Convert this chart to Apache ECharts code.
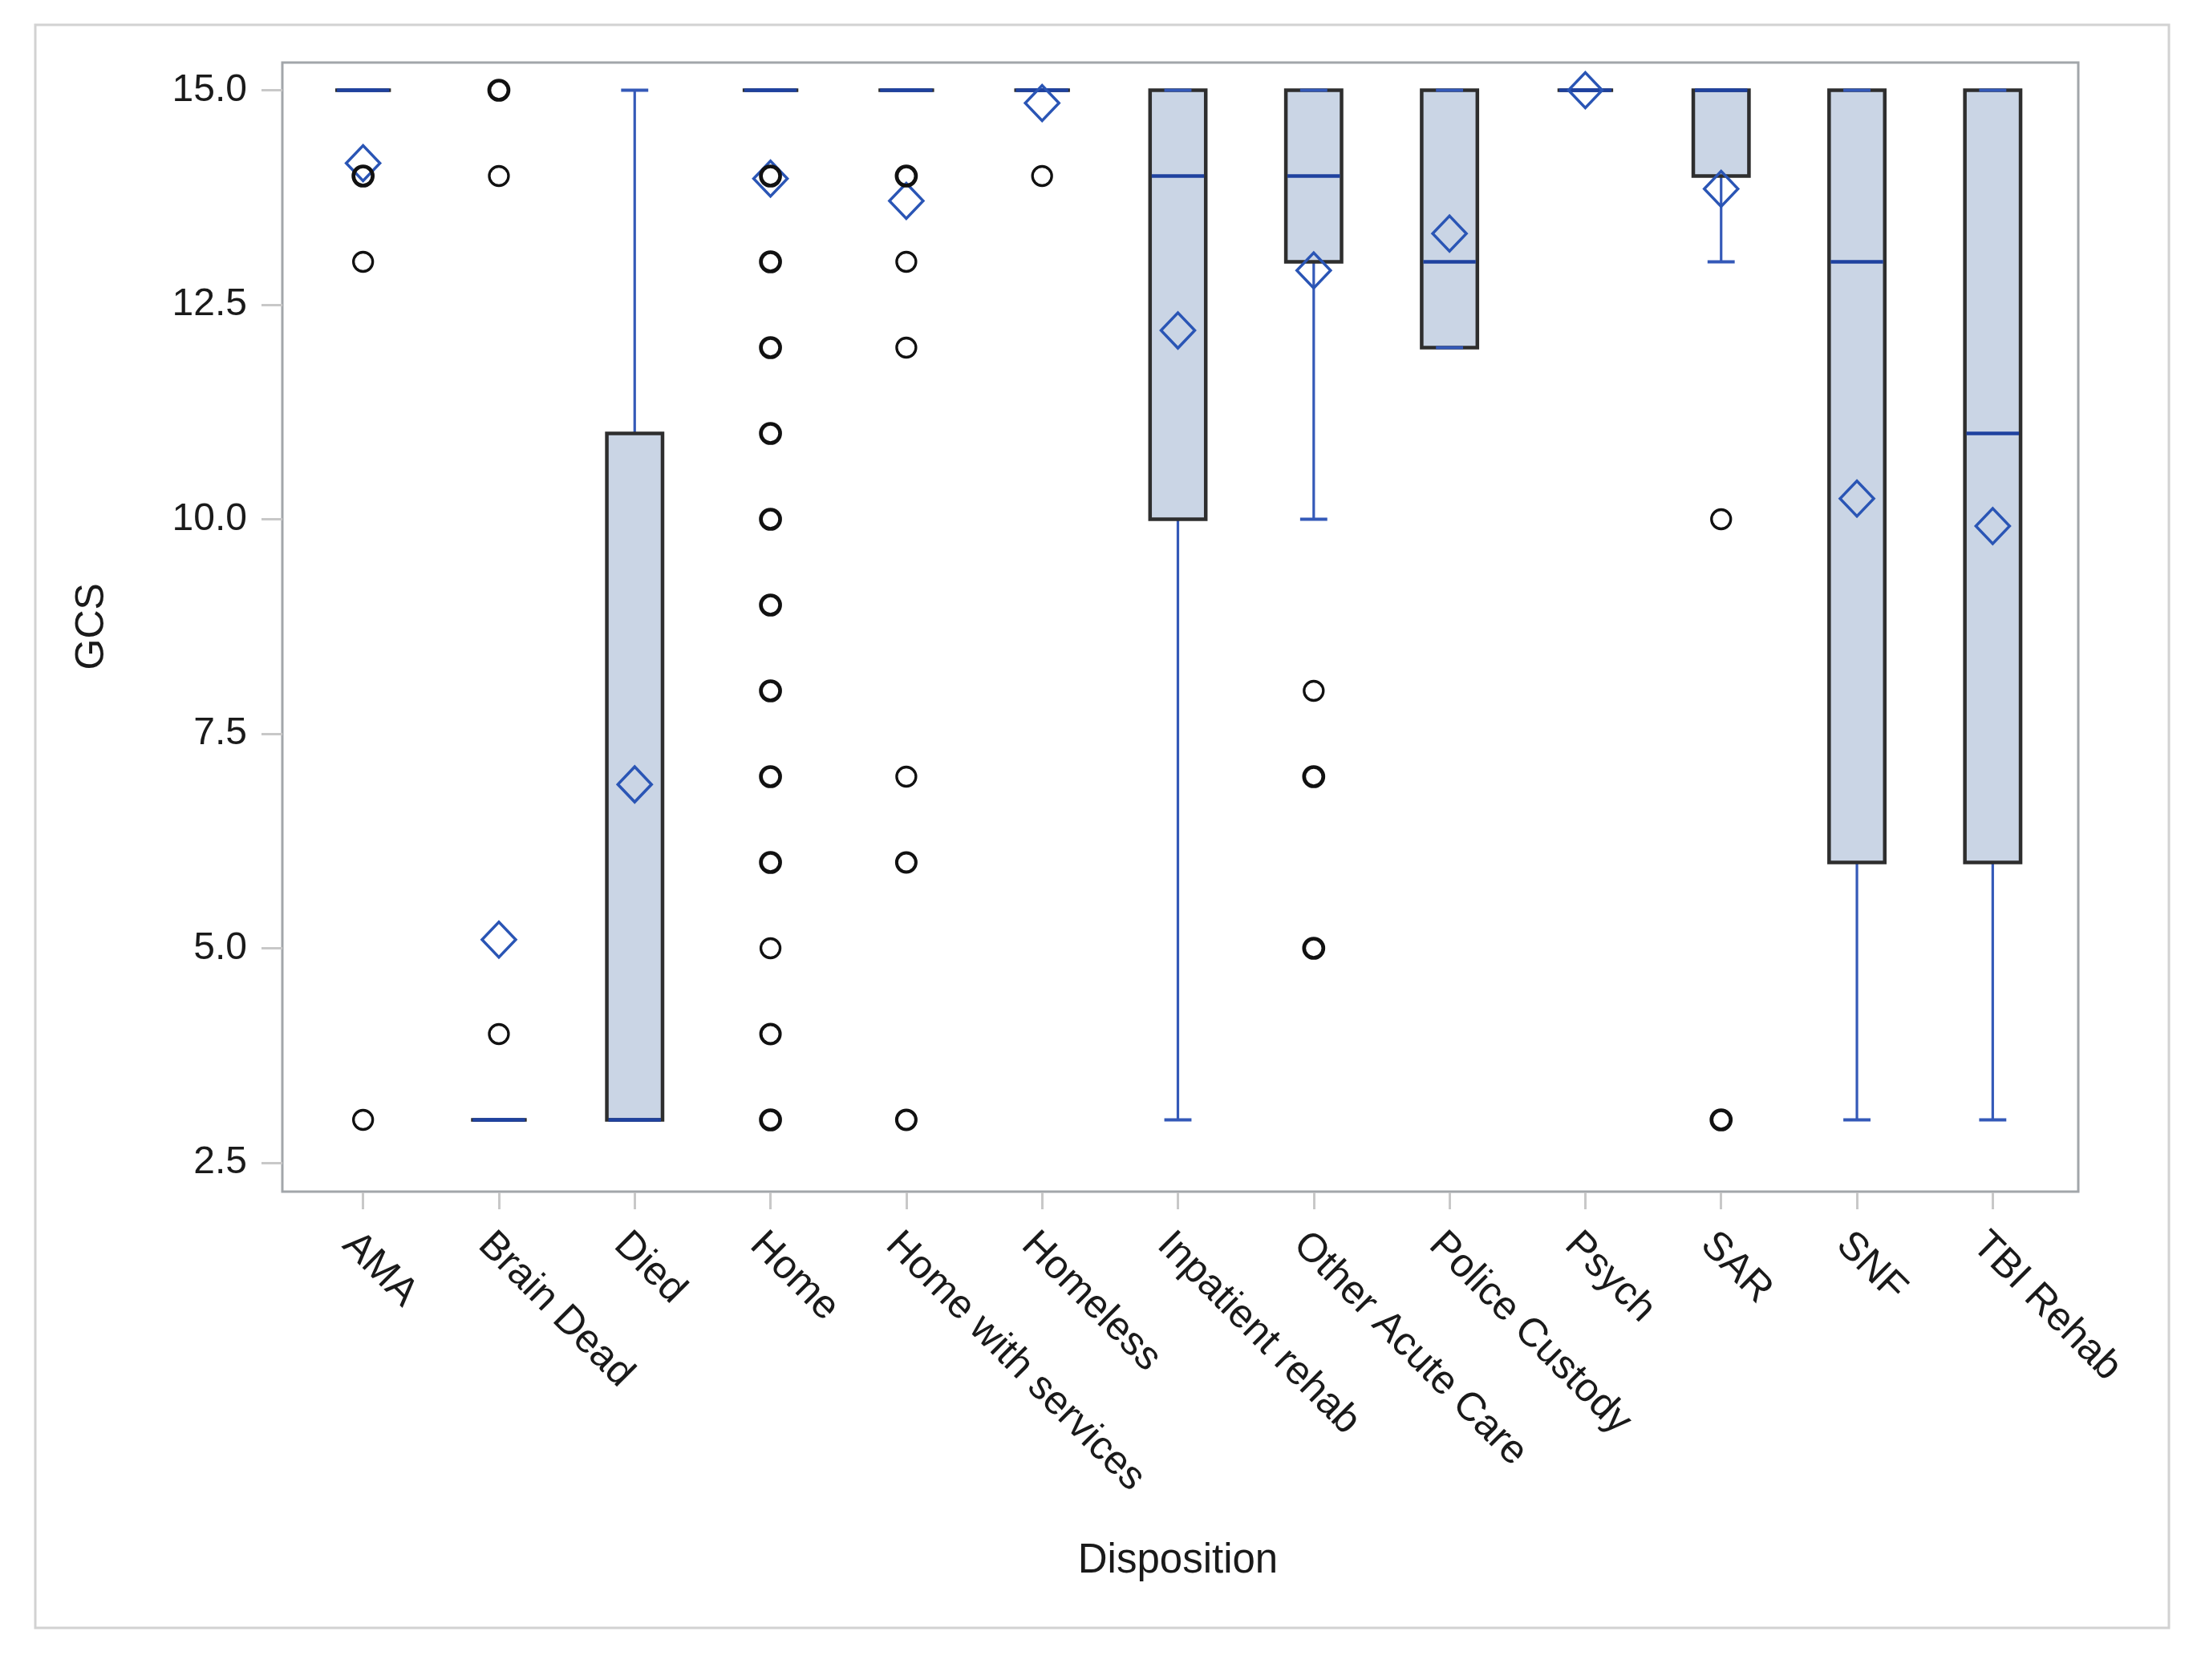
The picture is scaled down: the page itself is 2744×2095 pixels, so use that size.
<!DOCTYPE html>
<html>
<head>
<meta charset="utf-8">
<script src="https://cdn.jsdelivr.net/npm/echarts@6/dist/echarts.min.js"></script>
<style>html,body{margin:0;padding:0;background:#fff;}#c{width:2744px;height:2095px;}</style>
</head>
<body>
<div id="c"></div>
<script>
const categories = ['AMA','Brain Dead','Died','Home','Home with services','Homeless','Inpatient rehab','Other Acute Care','Police Custody','Psych','SAR','SNF','TBI Rehab'];
const boxMin    = [15, 3,  3, 15, 15, 15,  3, 10, 12, 15, 13,  3,  3];
const boxQ1     = [15, 3,  3, 15, 15, 15, 10, 13, 12, 15, 14,  6,  6];
const boxMedian = [15, 3,  3, 15, 15, 15, 14, 14, 13, 15, 15, 13, 11];
const boxQ3     = [15, 3, 11, 15, 15, 15, 15, 15, 15, 15, 15, 15, 15];
const boxMax    = [15, 3, 15, 15, 15, 15, 15, 15, 15, 15, 15, 15, 15];
const means     = [14.15, 5.1, 6.91, 13.97, 13.71, 14.85, 12.2, 12.9, 13.33, 15, 13.85, 10.24, 9.92];
// outliers: category index, value, approximate number of overlapping observations
const outlierCat   = [0,0,0, 1,1,1, 3,3,3,3,3,3,3,3,3,3,3,3, 4,4,4,4,4,4, 5, 7,7,7, 10,10];
const outlierValue = [14,13,3, 15,14,4, 14,13,12,11,10,9,8,7,6,5,4,3, 14,13,12,7,6,3, 14, 8,7,5, 10,3];
const outlierCount = [3,1,1, 3,1,1, 3,3,3,3,3,3,3,3,3,1,2,3, 3,1,1,1,2,2, 1, 1,3,3, 1,3];
const yTicks = [2.5, 5.0, 7.5, 10.0, 12.5, 15.0];

const FONT = 'Liberation Sans';
const chart = echarts.init(document.getElementById('c'), null, {renderer: 'canvas'});

const boxData = categories.map((c, i) => [i, boxMin[i], boxQ1[i], boxMedian[i], boxQ3[i], boxMax[i]]);
const meanData = categories.map((c, i) => [i, means[i]]);
const outData = outlierCat.map((c, k) => ({
  value: [c, outlierValue[k]],
  itemStyle: {borderWidth: 2.6 + outlierCount[k] * 0.7}
}));

const WHISK = '#3459b8', MED = '#1f429f', BOXLINE = '#2e2e2e', FILL = '#cad5e5';

chart.setOption({
  animation: false,
  backgroundColor: '#ffffff',
  graphic: [{
    type: 'rect', shape: {x: 44, y: 31, width: 2660, height: 1999},
    style: {fill: null, stroke: '#d2d2d2', lineWidth: 3}, z: -10, silent: true
  }],
  grid: [
    {left: 368, right: 175, top: 112.5, bottom: 645, show: false},
    {left: 352, right: 153, top: 78, bottom: 609, show: true, borderColor: '#a2a6aa', borderWidth: 3, backgroundColor: 'rgba(0,0,0,0)'}
  ],
  xAxis: [{
    type: 'category', gridIndex: 0, data: categories, boundaryGap: true, offset: 37,
    axisLine: {show: false},
    axisTick: {show: true, alignWithLabel: true, length: 21, lineStyle: {color: '#c8c8c8', width: 3}},
    axisLabel: {show: true, interval: 0, rotate: -45, align: 'left', verticalAlign: 'top', margin: 40,
      fontFamily: FONT, fontSize: 50, color: '#1a1a1a'},
    splitLine: {show: false},
    name: 'Disposition', nameLocation: 'middle', nameGap: 434,
    nameTextStyle: {fontFamily: FONT, fontSize: 51, color: '#1a1a1a'}
  }, {
    type: 'value', gridIndex: 1, show: false, min: 0, max: 1
  }],
  yAxis: [{
    type: 'value', gridIndex: 0, min: 2.5, max: 15, interval: 2.5, offset: 16,
    axisLine: {show: false},
    axisTick: {show: true, length: 26, lineStyle: {color: '#c8c8c8', width: 3}},
    axisLabel: {show: true, margin: 44, fontFamily: FONT, fontSize: 48, color: '#1a1a1a',
      formatter: v => { const t = yTicks.find(x => Math.abs(x - v) < 1e-6); return (t !== undefined ? t : v).toFixed(1); }},
    splitLine: {show: false},
    name: 'GCS', nameLocation: 'middle', nameGap: 212,
    nameTextStyle: {fontFamily: FONT, fontSize: 50, color: '#1a1a1a'}
  }, {
    type: 'value', gridIndex: 1, show: false, min: 0, max: 1
  }],
  series: [{
    type: 'custom', xAxisIndex: 0, yAxisIndex: 0, z: 2,
    data: boxData,
    encode: {x: 0, y: [1, 2, 3, 4, 5]},
    renderItem: function (params, api) {
      const idx = api.value(0);
      const vMin = api.value(1), vQ1 = api.value(2), vMed = api.value(3), vQ3 = api.value(4), vMax = api.value(5);
      const band = api.size([1, 0])[0];
      const bw = band * 0.41, cw = band * 0.2;
      const cx = api.coord([idx, vMed])[0];
      const yMin = api.coord([idx, vMin])[1], yQ1 = api.coord([idx, vQ1])[1];
      const yMed = api.coord([idx, vMed])[1], yQ3 = api.coord([idx, vQ3])[1], yMax = api.coord([idx, vMax])[1];
      const ch = [];
      if (vMax > vQ3) ch.push({type: 'line', shape: {x1: cx, y1: yQ3, x2: cx, y2: yMax}, style: {stroke: WHISK, lineWidth: 3.2}});
      if (vMin < vQ1) ch.push({type: 'line', shape: {x1: cx, y1: yQ1, x2: cx, y2: yMin}, style: {stroke: WHISK, lineWidth: 3.2}});
      ch.push({type: 'rect', shape: {x: cx - bw / 2, y: yQ3, width: bw, height: yQ1 - yQ3},
        style: {fill: FILL, stroke: BOXLINE, lineWidth: 4.5}});
      ch.push({type: 'line', shape: {x1: cx - cw / 2, y1: yMax, x2: cx + cw / 2, y2: yMax}, style: {stroke: WHISK, lineWidth: 4}});
      ch.push({type: 'line', shape: {x1: cx - cw / 2, y1: yMin, x2: cx + cw / 2, y2: yMin}, style: {stroke: WHISK, lineWidth: 4}});
      ch.push({type: 'line', shape: {x1: cx - bw / 2 + 2, y1: yMed, x2: cx + bw / 2 - 2, y2: yMed}, style: {stroke: MED, lineWidth: 4.5}});
      return {type: 'group', children: ch};
    }
  }, {
    type: 'scatter', xAxisIndex: 0, yAxisIndex: 0, z: 3,
    data: meanData, symbol: 'diamond', symbolSize: [42, 44],
    itemStyle: {color: 'rgba(0,0,0,0)', borderColor: '#2a55b5', borderWidth: 3.5, opacity: 1},
    emphasis: {disabled: true}
  }, {
    type: 'scatter', xAxisIndex: 0, yAxisIndex: 0, z: 4,
    data: outData, symbol: 'circle', symbolSize: 24,
    itemStyle: {color: 'rgba(0,0,0,0)', borderColor: '#111111', opacity: 1},
    emphasis: {disabled: true}
  }]
});
</script>
</body>
</html>
